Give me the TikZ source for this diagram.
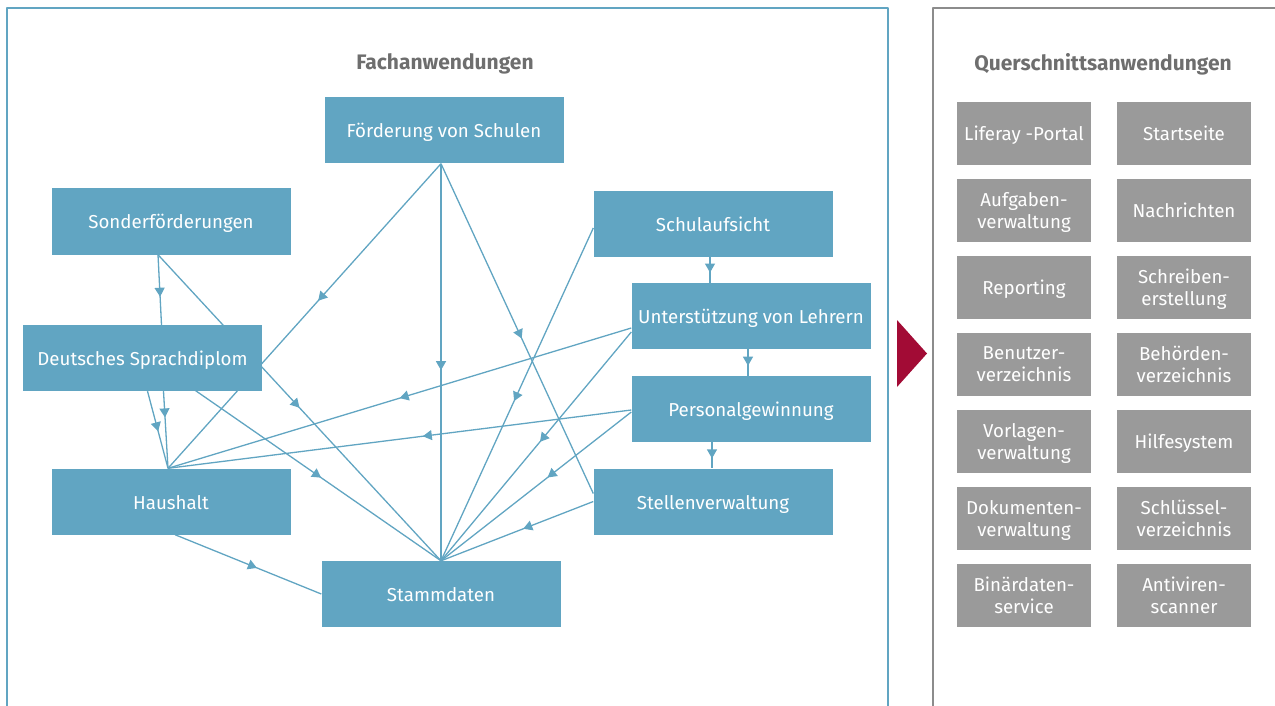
\documentclass[tikz,border=0pt]{standalone}
\usepackage{fontspec}
\setmainfont{Fira Sans}
\usetikzlibrary{arrows.meta,decorations.markings,backgrounds}
\definecolor{fachblue}{HTML}{61A5C2}
\definecolor{quergray}{HTML}{9A9A9A}
\definecolor{framegray}{HTML}{8C8C8C}
\definecolor{titlegray}{HTML}{6E6E6E}
\definecolor{pfeilred}{HTML}{A20B35}

\begin{document}
\begin{tikzpicture}[x=1pt, y=-1pt,
	line cap=round, line join=round,
	fach/.style={fill=fachblue, text=white, minimum width=239pt, minimum height=66pt,
		inner sep=0pt, text height=15pt, text depth=0pt, font=\fontsize{18.7}{22}\selectfont},
	quer/.style={fill=quergray, text=white, minimum width=134pt, minimum height=63pt,
		inner sep=0pt, text depth=0pt, align=center, font=\fontsize{18.7}{22}\selectfont},
	titles/.style={text=titlegray, font=\bfseries\fontsize{21}{24}\selectfont},
	link/.style={fachblue, line width=1.3pt,
		decoration={markings, mark=at position #1 with {\arrow{Triangle[length=9pt,width=10pt]}}},
		postaction={decorate}},
	link/.default=0.5]
	
	\useasboundingbox (0,0) rectangle (1275,706);
	
	% rahmen
	\draw [fachblue, line width=1.4pt] (7,706) -- (7,8) -- (888,8) -- (888,706);
	\draw [framegray, line width=1.4pt] (933,706) -- (933,8) -- (1275,8);
	\fill [pfeilred] (897,320) -- (927,353.5) -- (897,387) -- cycle;
	
	\node [titles] (fachtitel) at (445,64) {Fachanwendungen};
	\node [titles] (quertitel) at (1103,64) {Querschnittsanwendungen};
	
	% fachanwendungen
	\node [fach] (foerd) at (444,130.5) {Förderung von Schulen};
	\node [fach] (sonder) at (171,221.5) {Sonderförderungen};
	\node [fach] (dsd) at (142.5,358) {Deutsches Sprachdiplom};
	\node [fach] (haus) at (171,501.5) {Haushalt};
	\node [fach] (stamm) at (441,594) {Stammdaten};
	\node [fach] (schul) at (713,224) {Schulaufsicht};
	\node [fach] (unter) at (751,316) {Unterstützung von Lehrern};
	\node [fach] (personal) at (751,409) {Personalgewinnung};
	\node [fach] (stellen) at (713,501.5) {Stellenverwaltung};
	
	\begin{scope}[on background layer]
	\draw [link=0.45] ([xshift=-3pt]foerd.south) -- ([xshift=-3pt]haus.north);
	\draw [link=0.52] ([xshift=-3pt]foerd.south) -- (stamm.north);
	\draw [link=0.53] ([xshift=-3pt]foerd.south) -- ([yshift=8pt]stellen.west);
	\draw [link=0.6] ([xshift=-13pt]sonder.south) -- ([xshift=19pt]dsd.north);
	\draw [link=0.5] ([xshift=-13pt]sonder.south) -- (stamm.north);
	\draw [link=0.34] ([xshift=21pt]dsd.south) -- ([xshift=-3pt]haus.north);
	\draw [link=0.52] ([xshift=5pt]dsd.south) -- ([xshift=-3pt]haus.north);
	\draw [link=0.59] ([xshift=6pt]dsd.center) -- (stamm.north);
	\draw [link=0.5] ([yshift=-12pt]unter.west) -- ([xshift=-3pt]haus.north);
	\draw [link=0.45] ([yshift=-1pt]personal.west) -- ([xshift=-3pt]haus.north);
	\draw [link=0.52] ([yshift=-4pt]schul.west) -- (stamm.north);
	\draw [link=0.48] ([yshift=-16pt]unter.west) -- (stamm.north);
	\draw [link=0.44] ([yshift=-3pt]personal.west) -- (stamm.north);
	\draw [link=0.46] (stellen.west) -- (stamm.north);
	\draw [link=0.56] ([xshift=4pt]haus.south) -- (stamm.west);
	\draw [link=0.6] ([xshift=-3pt]schul.south) -- ([xshift=-41pt]unter.north);
	\draw [link=0.62] ([xshift=-3pt]unter.south) -- ([xshift=-3pt]personal.north);
	\draw [link=0.62] ([xshift=-39pt]personal.south) -- ([xshift=-1pt]stellen.north);
	\end{scope}
	
	% querschnittsanwendungen
	\foreach \lt/\rt [count=\r, evaluate={\y=133.5+77*(\r-1);}] in
		{{Liferay -Portal}/{Startseite},
		{Aufgaben-\\verwaltung}/{Nachrichten},
		{Reporting}/{Schreiben-\\erstellung},
		{Benutzer-\\verzeichnis}/{Behörden-\\verzeichnis},
		{Vorlagen-\\verwaltung}/{Hilfesystem},
		{Dokumenten-\\verwaltung}/{Schlüssel-\\verzeichnis},
		{Binärdaten-\\service}/{Antiviren-\\scanner}}{
		\node [quer] (ql\r) at (1024,\y) {\lt};
		\node [quer] (qr\r) at (1184,\y) {\rt};
	}
	
\end{tikzpicture}
\end{document}
